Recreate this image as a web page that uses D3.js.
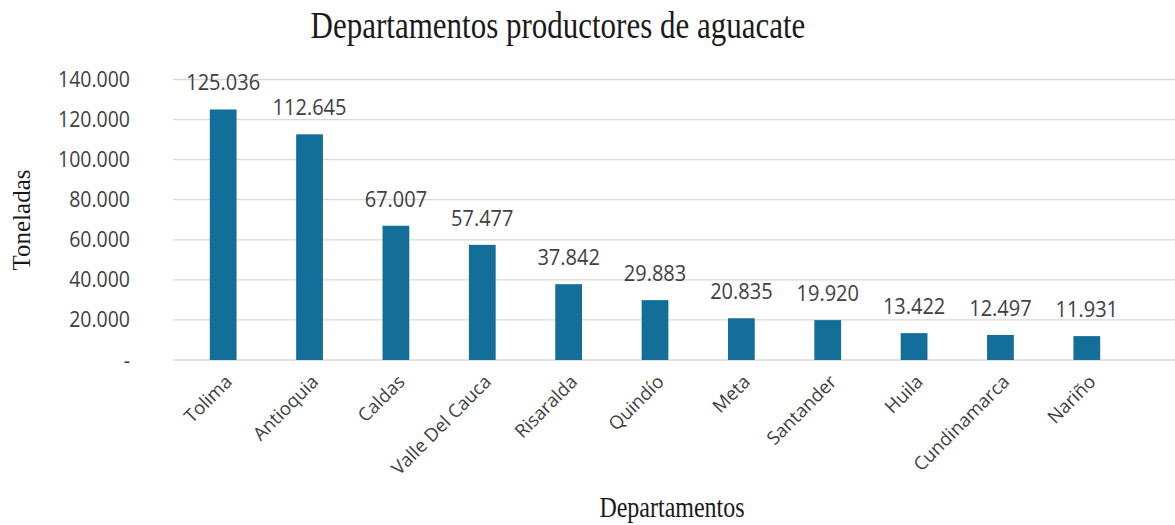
<!DOCTYPE html>
<html>
<head>
<meta charset="utf-8">
<script src="https://cdn.jsdelivr.net/npm/d3@7"></script>
<style>
  body { margin: 0; background: #fff; }
</style>
</head>
<body>
<div id="chart"></div>
<script>
// datos
var departamentos = ["Tolima", "Antioquia", "Caldas", "Valle Del Cauca", "Risaralda", "Quindío",
    "Meta", "Santander", "Huila", "Cundinamarca", "Nariño"];
var toneladas = [125036, 112645, 67007, 57477, 37842, 29883, 20835, 19920, 13422, 12497, 11931];
var yTicks = [0, 20000, 40000, 60000, 80000, 100000, 120000, 140000];

var W = 1175, H = 525;
var sans = "'Open Sans', 'Liberation Sans', sans-serif";
var serif = "'Liberation Serif', 'DejaVu Serif', serif";
var textColor = "#404040";
// la imagen original está algo estirada en vertical
var stretch = 1.25;

// formato con punto de miles
var es = d3.formatLocale({ decimal: ",", thousands: ".", grouping: [3], currency: ["", ""] });
var fmt = es.format(",d");

var svg = d3.select("#chart").append("svg")
    .attr("width", W)
    .attr("height", H);

var x = d3.scaleBand()
    .domain(departamentos)
    .range([180, 1130])
    .paddingInner(0.69)
    .paddingOuter(0.345);

var y = d3.scaleLinear()
    .domain([0, 140000])
    .range([360, 79.5]);

// título
svg.append("text")
    .attr("transform", `translate(558,38) scale(1,${stretch})`)
    .attr("text-anchor", "middle")
    .style("font-family", serif)
    .style("font-size", "31px")
    .style("fill", "#1a1a1a")
    .text("Departamentos productores de aguacate");

// líneas de cuadrícula
svg.append("g")
    .selectAll("line")
    .data(yTicks)
    .enter().append("line")
    .attr("x1", 173)
    .attr("x2", W)
    .attr("y1", d => y(d))
    .attr("y2", d => y(d))
    .style("stroke", "#d9d9d9")
    .style("stroke-width", 1.3);

// etiquetas del eje y
svg.append("g")
    .selectAll("text")
    .data(yTicks)
    .enter().append("text")
    .attr("transform", d => `translate(130,${y(d)}) scale(1,1.1)`)
    .attr("dy", "0.35em")
    .attr("text-anchor", "end")
    .style("font-family", sans)
    .style("font-size", "19.5px")
    .style("fill", textColor)
    .text(d => d === 0 ? "-" : fmt(d));

// barras
svg.append("g")
    .selectAll("rect")
    .data(toneladas)
    .enter().append("rect")
    .attr("x", (d, i) => x(departamentos[i]))
    .attr("y", d => y(d))
    .attr("width", x.bandwidth())
    .attr("height", d => y(0) - y(d))
    .style("fill", "#136f9a");

// etiquetas de datos
svg.append("g")
    .selectAll("text")
    .data(toneladas)
    .enter().append("text")
    .attr("transform", (d, i) => `translate(${x(departamentos[i]) + x.bandwidth() / 2},${y(d) - 19}) scale(1,1.1)`)
    .attr("text-anchor", "middle")
    .style("font-family", sans)
    .style("font-size", "20px")
    .style("fill", textColor)
    .text(d => fmt(d));

// etiquetas del eje x (rotadas)
svg.append("g")
    .selectAll("text")
    .data(departamentos)
    .enter().append("text")
    .attr("transform", d => `translate(${x(d) + x.bandwidth() / 2 + 10},${383}) rotate(-45)`)
    .attr("text-anchor", "end")
    .style("font-family", sans)
    .style("font-size", "18.5px")
    .style("fill", textColor)
    .text(d => d);

// títulos de los ejes
svg.append("text")
    .attr("transform", "translate(30,220) rotate(-90)")
    .attr("text-anchor", "middle")
    .style("font-family", serif)
    .style("font-size", "25px")
    .style("fill", "#1a1a1a")
    .text("Toneladas");

svg.append("text")
    .attr("transform", `translate(672,517) scale(1,1.2)`)
    .attr("text-anchor", "middle")
    .style("font-family", serif)
    .style("font-size", "24px")
    .style("fill", "#1a1a1a")
    .text("Departamentos");
</script>
</body>
</html>
